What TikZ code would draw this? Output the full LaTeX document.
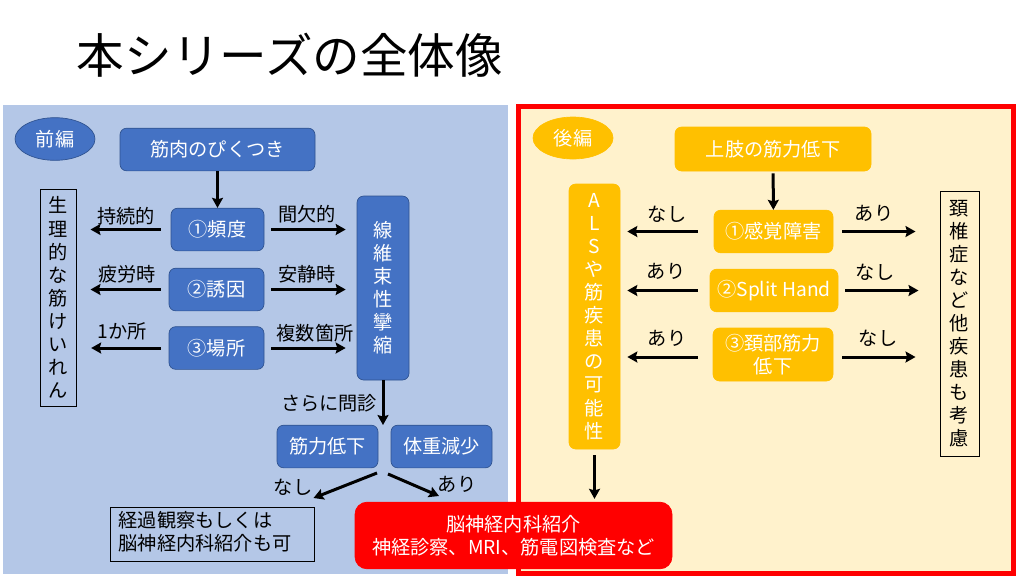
\documentclass[tikz,border=0pt]{standalone}
\usepackage{fontspec}
\setmainfont{Noto Sans CJK JP}
\usepackage{xcolor}
\usetikzlibrary{arrows.meta,shapes,positioning}
\definecolor{zenblue}{HTML}{4472C4}
\definecolor{zenline}{HTML}{2F528F}
\definecolor{zenback}{HTML}{B4C7E7}
\definecolor{koyellow}{HTML}{FFC000}
\definecolor{koback}{HTML}{FFF2CC}
\definecolor{kored}{HTML}{FF0000}
\tikzstyle{arrow} = [line width=2.25pt,->,>={Stealth[length=7.5pt,width=8.25pt,inset=1.2pt]},color=black]
\tikzstyle{boxsize} = [minimum width=#1*0.75pt]
\tikzstyle{bluenode} = [rectangle, rounded corners=5pt, draw=zenline, fill=zenblue, line width=0.5pt,
    text=white, font=\fontsize{14.4pt}{17.3pt}\selectfont, inner sep=0pt, align=center]
\tikzstyle{yellownode} = [rectangle, rounded corners=5pt, draw=koyellow, fill=koyellow, line width=0.5pt,
    text=white, font=\fontsize{14.4pt}{17.3pt}\selectfont, inner sep=0pt, align=center]
\tikzstyle{plainnode} = [rectangle, draw=black, line width=0.75pt, text=black,
    font=\fontsize{14.4pt}{17.3pt}\selectfont, inner sep=0pt, align=center]
\tikzstyle{lab} = [text=black, font=\fontsize{14.4pt}{17.3pt}\selectfont, inner sep=0pt]
\begin{document}
\begin{tikzpicture}[x=0.75pt, y=-0.75pt]
\useasboundingbox (0,0) rectangle (1024,576);
\fill[white] (0,0) rectangle (1024,576);
\node[lab, font=\fontsize{35.7pt}{40pt}\selectfont] (title) at (290,55) {本シリーズの全体像};
\fill[zenback] (3,105) rectangle (508,574);
\draw[kored, fill=koback, line width=3.75pt] (518.5,106) rectangle (1013.5,573);

\node[bluenode, ellipse, boxsize=80, minimum height=32pt] (zenpen) at (55,139) {前編};
\node[bluenode, boxsize=195, minimum height=32pt] (pikutsuki) at (217.5,149.5) {筋肉のぴくつき};
\node[bluenode, boxsize=93, minimum height=32pt] (hindo) at (217.5,229.5) {①頻度};
\node[bluenode, boxsize=95, minimum height=32pt] (yuin) at (216.5,289.5) {②誘因};
\node[bluenode, boxsize=95, minimum height=32pt] (basho) at (216.5,348) {③場所};
\node[bluenode, boxsize=52, minimum height=138pt] (senisoku) at (383,288) {線\\維\\束\\性\\攣\\縮};
\node[plainnode, boxsize=36, minimum height=162.75pt] (seiri) at (58,297.5) {生\\理\\的\\な\\筋\\け\\い\\れ\\ん};
\node[bluenode, boxsize=101, minimum height=32pt] (kinryoku) at (327.5,446.5) {筋力低下};
\node[bluenode, boxsize=101, minimum height=32pt] (taiju) at (441.5,446.5) {体重減少};
\node[plainnode, boxsize=204, minimum height=41pt] (keika) at (212,534.5) {\hspace*{-10.5pt}\begin{tabular}{@{}l@{}}経過観察もしくは\\[0.5pt]脳神経内科紹介も可\end{tabular}};

\node[lab] (jizoku) at (126,216) {持続的};
\node[lab] (hirou) at (127,274) {疲労時};
\node[lab] (ikkasho) at (122,331) {1か所};
\node[lab] (kanketsu) at (307,214) {間欠的};
\node[lab] (ansei) at (307,274) {安静時};
\node[lab] (fukusu) at (315,333) {複数箇所};
\node[lab] (monshin) at (329,403) {さらに問診};
\node[lab] (zennashi) at (293,487) {なし};
\node[lab] (zenari) at (457,484) {あり};

\draw[arrow] (pikutsuki) -- (hindo);
\draw[arrow, shorten <=7.5pt, shorten >=10.5pt] (hindo.west) -- (seiri.east |- hindo.west);
\draw[arrow, shorten <=6pt, shorten >=10.5pt] (yuin.west) -- (seiri.east |- yuin.west);
\draw[arrow, shorten <=6pt, shorten >=11pt] (basho.west) -- (seiri.east |- basho.west);
\draw[arrow, shorten <=5.25pt, shorten >=8.25pt] (hindo.east) -- (senisoku.west |- hindo.east);
\draw[arrow, shorten <=5.25pt, shorten >=8.25pt] (yuin.east) -- (senisoku.west |- yuin.east);
\draw[arrow, shorten <=5.25pt, shorten >=8.25pt] (basho.east) -- (senisoku.west |- basho.east);
\coordinate (monshinend) at (383,425);
\draw[arrow] (senisoku) -- (monshinend);
\coordinate (nashistart) at (377,473);
\coordinate (nashiend) at (313.5,498);
\coordinate (aristart) at (388,474);
\coordinate (ariend) at (439,496);
\draw[arrow] (nashistart) -- (nashiend);
\draw[arrow] (aristart) -- (ariend);

\node[yellownode, ellipse, boxsize=80, minimum height=31.5pt] (kohen) at (573,138) {後編};
\node[yellownode, boxsize=196, minimum height=33pt] (joshi) at (773,149) {上肢の筋力低下};
\node[yellownode, boxsize=119, minimum height=32pt] (kankaku) at (773.5,231.5) {①感覚障害};
\node[yellownode, boxsize=128, minimum height=32pt] (split) at (774,290.5) {②Split Hand};
\node[yellownode, boxsize=120, minimum height=39.75pt] (keibu) at (773,354.5) {③頚部筋力\\低下};
\node[yellownode, boxsize=51, minimum height=198.75pt] (als) at (594.5,316.5) {A\\L\\S\\や\\筋\\疾\\患\\の\\可\\能\\性};
\node[plainnode, boxsize=39, minimum height=198.75pt] (keitsui) at (959.5,323.5) {頚\\椎\\症\\な\\ど\\他\\疾\\患\\も\\考\\慮};

\node[lab] (kannashi) at (667,214) {なし};
\node[lab] (kanari) at (874,213) {あり};
\node[lab] (splitari) at (666,271) {あり};
\node[lab] (splitnashi) at (875,272) {なし};
\node[lab] (keiari) at (667,338) {あり};
\node[lab] (keinashi) at (878,338) {なし};

\node[rectangle, rounded corners=9pt, draw=kored, fill=kored, line width=0.5pt, text=white,
    font=\fontsize{14.4pt}{17.3pt}\selectfont, inner sep=0pt, align=center, boxsize=317, minimum height=50pt] (noushin) at (513.5,535.5)
    {脳神経内科紹介\\神経診察、MRI、筋電図検査など};

\coordinate (keirow) at (773,357);
\draw[arrow, shorten <=1.5pt] (joshi) -- (kankaku);
\draw[arrow, shorten <=12pt, shorten >=5.25pt] (kankaku.west) -- (als.east |- kankaku.west);
\draw[arrow, shorten <=6.75pt, shorten >=18pt] (kankaku.east) -- (keitsui.west |- kankaku.east);
\draw[arrow, shorten <=9pt, shorten >=5.25pt] (split.west) -- (als.east |- split.west);
\draw[arrow, shorten <=5.25pt, shorten >=15.75pt] (split.east) -- (keitsui.west |- split.east);
\draw[arrow, shorten <=11.25pt, shorten >=5.25pt] (keibu.west |- keirow) -- (als.east |- keirow);
\draw[arrow, shorten <=6.75pt, shorten >=18pt] (keibu.east |- keirow) -- (keitsui.west |- keirow);
\draw[arrow, shorten <=4.5pt, shorten >=2.25pt] (als) -- (als |- noushin.north);
\end{tikzpicture}
\end{document}
